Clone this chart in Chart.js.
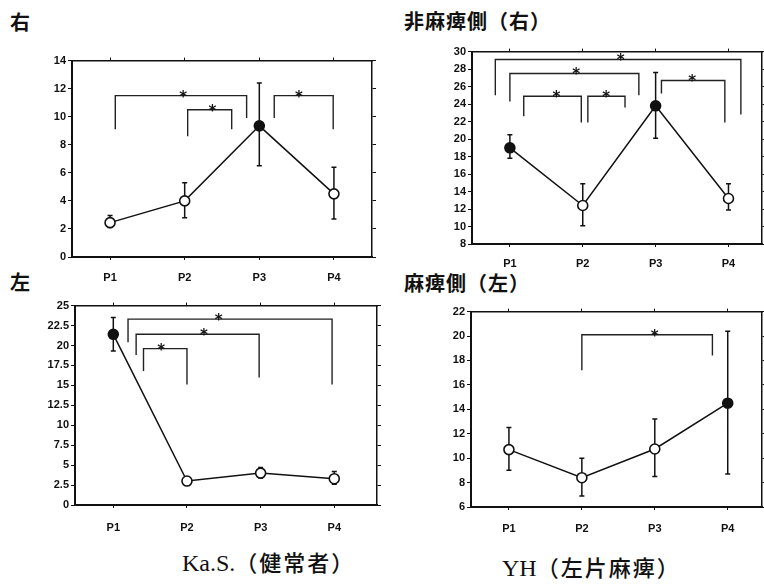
<!DOCTYPE html>
<html>
<head>
<meta charset="utf-8">
<script src="https://cdn.jsdelivr.net/npm/chart.js@4.4.1/dist/chart.umd.min.js"></script>
<style>
  body { margin: 0; background: #fff; width: 764px; height: 586px; position: relative; overflow: hidden; }
  .ttl { position: absolute; font-family: "Noto Sans CJK JP", sans-serif; font-weight: bold; font-size: 20px; line-height: 20px; letter-spacing: 1px; color: #111; white-space: nowrap; }
  .cap { position: absolute; font-family: "Liberation Serif", serif; font-size: 24px; line-height: 24px; color: #111; white-space: nowrap; }
  .cap span { font-family: "Noto Sans CJK JP", sans-serif; font-weight: 500; font-size: 22px; letter-spacing: 2px; }
  canvas { position: absolute; }
</style>
</head>
<body>
<div class="ttl" style="left:10px;top:12px">右</div>
<div class="ttl" style="left:404px;top:11px">非麻痺側（右）</div>
<div class="ttl" style="left:10px;top:272px">左</div>
<div class="ttl" style="left:404px;top:273px">麻痺側（左）</div>
<div class="cap" style="left:182px;top:549px">Ka.S.<span>（健常者）</span></div>
<div class="cap" style="left:502px;top:554px">YH<span>（左片麻痺）</span></div>

<canvas id="c1"></canvas>
<canvas id="c2"></canvas>
<canvas id="c3"></canvas>
<canvas id="c4"></canvas>

<script>
/* categories */
const labels = ['P1', 'P2', 'P3', 'P4'];

/* Ka.S. right */
const ksRightMean   = [2.45, 4.0, 9.35, 4.5];
const ksRightLow    = [2.1, 2.8, 6.5, 2.7];
const ksRightHigh   = [2.95, 5.3, 12.4, 6.4];
const ksRightFilled = [false, false, true, false];
/* brackets: [xLeft, xRight, yTop, yLeftEnd, yRightEnd, xStar] (x in category index units) */
const ksRightBrackets = [
  [0.07, 1.83, 11.5, 9.1, 9.9, 0.98],
  [1.04, 1.63, 10.5, 8.6, 9.1, 1.37],
  [2.2, 2.99, 11.5, 9.9, 9.1, 2.53],
];

/* YH non-paretic (right) */
const yhRightMean   = [19.0, 12.4, 23.8, 13.2];
const yhRightLow    = [17.8, 10.1, 20.1, 11.9];
const yhRightHigh   = [20.5, 14.9, 27.6, 14.9];
const yhRightFilled = [true, false, true, false];
const yhRightBrackets = [
  [-0.2, 3.17, 29.1, 25.0, 22.8, 1.52],
  [0.0, 1.77, 27.5, 24.3, 25.0, 0.91],
  [0.19, 0.98, 24.9, 22.6, 21.9, 0.64],
  [1.07, 1.58, 24.9, 21.9, 23.6, 1.32],
  [2.08, 2.95, 26.7, 25.2, 21.9, 2.5],
];

/* Ka.S. left */
const ksLeftMean   = [21.4, 3.0, 4.0, 3.3];
const ksLeftLow    = [19.3, 2.7, 3.4, 2.6];
const ksLeftHigh   = [23.5, 3.3, 4.7, 4.2];
const ksLeftFilled = [true, false, false, false];
const ksLeftBrackets = [
  [0.2, 2.97, 23.3, 20.4, 15.1, 1.43],
  [0.31, 1.98, 21.4, 18.8, 16.0, 1.23],
  [0.41, 1.0, 19.6, 16.8, 15.1, 0.65],
];

/* YH paretic (left) */
const yhLeftMean   = [10.7, 8.4, 10.75, 14.5];
const yhLeftLow    = [9.0, 6.9, 8.5, 8.7];
const yhLeftHigh   = [12.5, 10.0, 13.2, 20.4];
const yhLeftFilled = [false, false, false, true];
const yhLeftBrackets = [
  [1.0, 2.79, 20.1, 17.2, 18.4, 2.0],
];

const YW = 40, RW = 8, TH = 6, XH = 36;
const tickFont = { family: 'Liberation Sans', size: 11, weight: 'bold' };

/* draws the significance stars above each bracket */
const starPlugin = {
  id: 'sigStars',
  afterDatasetsDraw(chart, args, opts) {
    const { ctx, scales } = chart;
    ctx.save();
    ctx.fillStyle = '#111';
    ctx.font = 'bold 15px "DejaVu Sans"';
    ctx.textAlign = 'center';
    ctx.textBaseline = 'alphabetic';
    opts.items.forEach(b => {
      const x = scales.x.getPixelForValue(b[5]);
      const y = scales.y.getPixelForValue(b[2]);
      ctx.fillText('*', x, y + 6);
    });
    ctx.restore();
  }
};

function makePanel(id, box, p) {
  const cv = document.getElementById(id);
  const w = box.r - box.l + YW + RW;
  const h = box.b - box.t + TH + XH;
  cv.width = w; cv.height = h;
  cv.style.left = (box.l - YW) + 'px';
  cv.style.top = (box.t - TH) + 'px';

  const pts = p.mean.map((v, i) => ({ x: i, y: v }));
  const err = [];
  p.low.forEach((lo, i) => {
    err.push({ x: i, y: lo }, { x: i, y: p.high[i] }, { x: i, y: null });
  });
  const br = [];
  p.brackets.forEach(b => {
    br.push({ x: b[0], y: b[3] }, { x: b[0], y: b[2] }, { x: b[1], y: b[2] }, { x: b[1], y: b[4] }, { x: b[1], y: null });
  });
  const catTicks = s => { s.ticks = labels.map((_, i) => ({ value: i })); };

  new Chart(cv, {
    type: 'scatter',
    data: {
      datasets: [
        {
          data: pts, showLine: true,
          borderColor: '#111', borderWidth: 1.5,
          pointRadius: 5, pointHoverRadius: 5, pointBorderWidth: 1.6,
          pointBorderColor: '#111',
          pointBackgroundColor: p.filled.map(f => f ? '#111' : '#fff'),
        },
        {
          data: err, showLine: true, spanGaps: false,
          borderColor: '#111', borderWidth: 1.5,
          pointStyle: 'line', pointRadius: 2.5, pointBorderWidth: 1.5,
          pointBorderColor: '#111',
        },
        {
          data: br, showLine: true, spanGaps: false,
          borderColor: '#222', borderWidth: 1.4,
          pointRadius: 0,
        },
      ],
    },
    options: {
      responsive: false,
      animation: false,
      events: [],
      layout: { padding: 0 },
      plugins: {
        legend: { display: false },
        tooltip: { enabled: false },
        sigStars: { items: p.brackets },
      },
      scales: {
        x: {
          type: 'linear', position: 'bottom', min: p.xMin, max: p.xMax,
          afterBuildTicks: catTicks,
          afterFit: s => { s.height = XH; },
          grid: { drawOnChartArea: false, tickLength: 3, color: '#111' },
          border: { color: '#111', width: 2 },
          ticks: { color: '#111', font: tickFont, padding: p.xPad, maxRotation: 0,
                   callback: v => labels[Math.round(v)] },
        },
        xt: {
          type: 'linear', position: 'top', min: p.xMin, max: p.xMax,
          afterBuildTicks: catTicks,
          afterFit: s => { s.height = TH; },
          grid: { drawOnChartArea: false, tickLength: 3, color: '#111' },
          border: { color: '#111', width: 1.5 },
          ticks: { display: false },
        },
        y: {
          position: 'left', min: p.yMin, max: p.yMax,
          afterFit: s => { s.width = YW; },
          grid: { drawOnChartArea: false, tickLength: 4, color: '#111' },
          border: { color: '#111', width: 2 },
          ticks: { stepSize: p.yStep, color: '#111', font: tickFont, padding: 2 },
        },
        yr: {
          position: 'right', min: p.yMin, max: p.yMax,
          afterFit: s => { s.width = RW; },
          grid: { drawOnChartArea: false, tickLength: 4, color: '#111' },
          border: { color: '#111', width: 1.5 },
          ticks: { stepSize: p.yStep, display: false },
        },
      },
    },
    plugins: [starPlugin],
  });
}

makePanel('c1', { l: 72, t: 58, r: 372, b: 257 }, {
  mean: ksRightMean, low: ksRightLow, high: ksRightHigh, filled: ksRightFilled,
  brackets: ksRightBrackets, yMin: 0, yMax: 14, yStep: 2, xMin: -0.51, xMax: 3.51, xPad: 11,
});
makePanel('c2', { l: 472, t: 49, r: 762, b: 244 }, {
  mean: yhRightMean, low: yhRightLow, high: yhRightHigh, filled: yhRightFilled,
  brackets: yhRightBrackets, yMin: 8, yMax: 30, yStep: 2, xMin: -0.52, xMax: 3.46, xPad: 10,
});
makePanel('c3', { l: 75, t: 303, r: 377, b: 505 }, {
  mean: ksLeftMean, low: ksLeftLow, high: ksLeftHigh, filled: ksLeftFilled,
  brackets: ksLeftBrackets, yMin: 0, yMax: 25, yStep: 2.5, xMin: -0.52, xMax: 3.58, xPad: 13,
});
makePanel('c4', { l: 471, t: 309, r: 762, b: 507 }, {
  mean: yhLeftMean, low: yhLeftLow, high: yhLeftHigh, filled: yhLeftFilled,
  brackets: yhLeftBrackets, yMin: 6, yMax: 22, yStep: 2, xMin: -0.52, xMax: 3.47, xPad: 12,
});
</script>
</body>
</html>
